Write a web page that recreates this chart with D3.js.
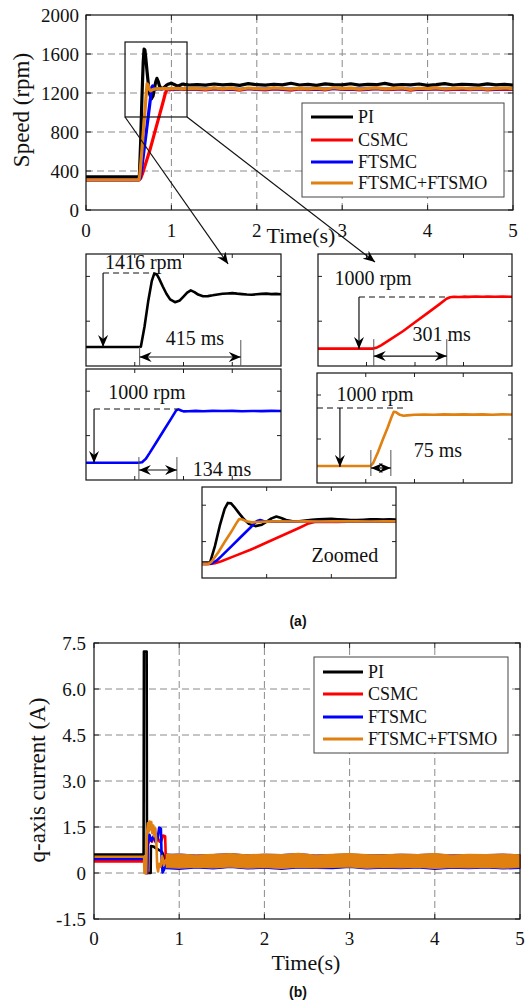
<!DOCTYPE html>
<html>
<head>
<meta charset="utf-8">
<script src="https://cdn.jsdelivr.net/npm/d3@7"></script>
<style>
body { margin: 0; background: #fff; }
text { font-family: "Liberation Serif", "Times New Roman", serif; fill: #111; }
</style>
</head>
<body>
<svg id="fig" width="526" height="1004"></svg>
<script>

// series names and colours
const names = ["PI", "CSMC", "FTSMC", "FTSMC+FTSMO"];
const colors = ["#000000", "#ff0000", "#0000ff", "#e08010"];

// tick values / labels
const timeTicks = [0, 1, 2, 3, 4, 5];
const speedTicks = [0, 400, 800, 1200, 1600, 2000];
const curTicks = [-1.5, 0, 1.5, 3, 4.5, 6, 7.5];
const curTickLabels = ["-1.5", "0", "1.5", "3.0", "4.5", "6.0", "7.5"];

// speed (rpm), start-up transient: [t, rpm]
const speedPI = [[0,340],[0.61,340],[0.625,345],[0.64,700],[0.655,1150],[0.67,1520],[0.68,1650],[0.69,1640],
  [0.70,1560],[0.715,1420],[0.73,1290],[0.745,1190],[0.765,1140],[0.785,1170],[0.80,1240],[0.815,1310],
  [0.83,1350],[0.845,1320],[0.86,1275],[0.88,1245],[0.90,1248],[0.92,1262],[0.94,1278],[0.96,1290],
  [0.98,1296],[1.0,1302],[1.02,1292],[1.04,1284],[1.06,1276],[1.08,1272],[1.10,1280],[1.12,1288],
  [1.14,1292],[1.16,1284],[1.18,1288],[1.2,1282]];
const speedCSMC = [[0,310],[0.625,310],[0.64,325],[0.66,370],[0.70,480],[0.75,620],[0.80,780],[0.85,940],
  [0.90,1100],[0.93,1200],[0.945,1228],[0.96,1236],[0.98,1232],[1.0,1238],[1.02,1234],[1.05,1240],
  [1.08,1236],[1.1,1242],[1.13,1237],[1.16,1240],[1.2,1236]];
const speedFTSMC = [[0,310],[0.615,310],[0.63,320],[0.645,380],[0.66,480],[0.69,690],[0.72,900],[0.75,1110],
  [0.77,1255],[0.78,1272],[0.79,1252],[0.80,1236],[0.82,1240],[0.85,1245],[0.88,1240],[0.92,1246],
  [0.96,1242],[1.0,1245],[1.04,1240],[1.08,1244],[1.12,1241],[1.16,1246],[1.2,1243]];
const speedFTSMO = [[0,310],[0.62,310],[0.63,360],[0.65,560],[0.67,790],[0.69,1010],[0.705,1190],[0.715,1295],
  [0.725,1285],[0.74,1240],[0.755,1222],[0.77,1230],[0.80,1240],[0.84,1246],[0.88,1242],[0.92,1247],
  [0.96,1243],[1.0,1248],[1.04,1244],[1.08,1247],[1.12,1242],[1.16,1248],[1.2,1245]];

// speed steady state (rpm)
const steadyT = [1.3,1.4,1.5,1.6,1.7,1.8,1.9,2.0,2.1,2.2,2.3,2.4,2.5,2.6,2.7,2.8,2.9,3.0,3.1,3.2,
  3.3,3.4,3.5,3.6,3.7,3.8,3.9,4.0,4.1,4.2,4.3,4.4,4.5,4.6,4.7,4.8,4.9,5.0];
const steadyPI = [1286,1280,1292,1283,1289,1278,1296,1285,1281,1290, 1284,1300,1282,1288,1279,1293,1286,1283,1295,1280,
  1289,1285,1298,1281,1287,1284,1292,1279,1286,1296, 1282,1290,1285,1280,1293,1284,1288,1281];
const steadyCSMC = [1238,1232,1242,1235,1240,1230,1245,1236,1233,1241, 1237,1229,1243,1235,1239,1232,1246,1236,1240,1231,
  1238,1244,1234,1237,1241,1230,1239,1236,1243,1233, 1238,1240,1235,1242,1232,1237,1239,1236];
const steadyFTSMC = [1244,1240,1247,1241,1245,1238,1246,1242,1240,1247, 1243,1239,1246,1241,1244,1240,1248,1242,1245,1239,
  1243,1247,1241,1244,1246,1238,1245,1242,1247,1240, 1244,1246,1241,1245,1239,1243,1246,1242];
const steadyFTSMO = [1248,1240,1252,1243,1250,1238,1251,1244,1241,1253, 1246,1239,1250,1243,1249,1240,1254,1244,1250,1239,
  1246,1252,1242,1248,1251,1238,1249,1244,1253,1241, 1247,1251,1242,1249,1240,1246,1251,1244];

// q-axis current (A), transient: [t, A]
const curPI = [[0,0.6],[0.582,0.6],[0.586,7.22],[0.618,7.22],[0.622,0],[0.665,0],[0.668,0.88],[0.70,0.86],
  [0.72,0.82],[0.745,0.78],[0.77,0.74],[0.80,0.68],[0.82,0.55],[0.84,0.45],[0.85,0.4]];
const curCSMC = [[0,0.38],[0.6,0.38],[0.603,0],[0.625,0],[0.632,0.9],[0.655,1.12],[0.68,1.02],[0.70,1.18],
  [0.72,1.06],[0.745,1.16],[0.77,1.02],[0.79,1.05],[0.81,1.22],[0.835,1.2],[0.845,0.25],[0.85,0.3]];
const curFTSMC = [[0,0.46],[0.6,0.46],[0.605,0],[0.622,0],[0.63,0.95],[0.65,1.25],[0.675,1.05],[0.70,1.2],
  [0.725,1.0],[0.745,1.1],[0.765,1.48],[0.785,1.45],[0.795,0.4],[0.805,0.02],[0.82,0.1],[0.85,0.3]];
const curFTSMO = [[0,0.53],[0.588,0.53],[0.592,0],[0.612,0],[0.62,1.2],[0.632,1.62],[0.642,1.35],[0.652,1.68],
  [0.662,1.42],[0.672,1.66],[0.684,1.3],[0.695,1.55],[0.708,1.2],[0.72,1.45],[0.732,1.0],[0.742,0.2],
  [0.752,0.05],[0.765,0.3],[0.78,0.2],[0.8,0.55],[0.82,0.25],[0.85,0.45]];

// q-axis current ripple band after start-up: lower / upper envelope (A)
const envT = [0.85,1.0,1.2,1.4,1.6,1.8,2.0,2.2,2.4,2.6,2.8,3.0,3.2,3.4,3.6,3.8,4.0,4.2,4.4,4.6,4.8,5.0];
const envPIlo = [0.22,0.2,0.21,0.19,0.22,0.2,0.21,0.19,0.22,0.2,0.21,0.22,0.2,0.21,0.19,0.22,0.2,0.21,0.2,0.22,0.19,0.21];
const envPIhi = [0.62,0.58,0.57,0.59,0.6,0.57,0.59,0.58,0.6,0.57,0.59,0.6,0.58,0.57,0.6,0.58,0.59,0.57,0.6,0.58,0.59,0.57];
const envCSMClo = [0.2,0.19,0.21,0.2,0.22,0.19,0.2,0.18,0.21,0.2,0.19,0.21,0.2,0.22,0.19,0.2,0.18,0.21,0.2,0.21,0.19,0.2];
const envCSMChi = [0.6,0.59,0.57,0.6,0.61,0.58,0.6,0.59,0.61,0.57,0.6,0.61,0.58,0.6,0.59,0.6,0.61,0.58,0.6,0.59,0.61,0.58];
const envFTSMClo = [0.14,0.12,0.17,0.13,0.18,0.13,0.16,0.12,0.17,0.15,0.14,0.18,0.13,0.16,0.14,0.17,0.12,0.16,0.14,0.17,0.13,0.15];
const envFTSMChi = [0.6,0.62,0.58,0.6,0.63,0.58,0.61,0.6,0.63,0.58,0.6,0.62,0.59,0.59,0.61,0.6,0.62,0.58,0.6,0.6,0.61,0.59];
const envFTSMOlo = [0.18,0.16,0.19,0.17,0.2,0.16,0.18,0.15,0.19,0.17,0.18,0.2,0.16,0.18,0.17,0.19,0.15,0.18,0.17,0.19,0.16,0.18];
const envFTSMOhi = [0.6,0.62,0.58,0.61,0.63,0.59,0.62,0.6,0.64,0.58,0.61,0.63,0.6,0.59,0.62,0.6,0.63,0.58,0.61,0.6,0.62,0.59];


const speed = [
    speedPI.concat(steadyT.map((t, i) => [t, steadyPI[i]])),
    speedCSMC.concat(steadyT.map((t, i) => [t, steadyCSMC[i]])),
    speedFTSMC.concat(steadyT.map((t, i) => [t, steadyFTSMC[i]])),
    speedFTSMO.concat(steadyT.map((t, i) => [t, steadyFTSMO[i]]))
];
const current = [curPI, curCSMC, curFTSMC, curFTSMO];
const envelope = [
    envT.map((t, i) => [t, envPIlo[i], envPIhi[i]]),
    envT.map((t, i) => [t, envCSMClo[i], envCSMChi[i]]),
    envT.map((t, i) => [t, envFTSMClo[i], envFTSMChi[i]]),
    envT.map((t, i) => [t, envFTSMOlo[i], envFTSMOhi[i]])
];

const svg = d3.select("#fig");
svg.append("rect").attr("width", 526).attr("height", 1004).attr("fill", "white");

const defs = svg.append("defs");
defs.append("marker")
    .attr("id", "head")
    .attr("viewBox", "0 0 12 10")
    .attr("refX", 12).attr("refY", 5)
    .attr("markerWidth", 12).attr("markerHeight", 10)
    .attr("markerUnits", "userSpaceOnUse")
    .attr("orient", "auto-start-reverse")
    .append("path")
    .attr("d", "M0,0 L12,5 L0,10 L4,5 Z")
    .attr("fill", "black");

function txt(g, x, y, s, size, anchor)
{
    return g.append("text")
        .attr("x", x).attr("y", y)
        .attr("font-size", size)
        .attr("text-anchor", anchor || "start")
        .text(s);
}

// MATLAB style box: optional dashed grid, inward ticks on all four sides
function frame(g, x, y, xt, yt, grid, tickLen)
{
    const [x0, x1] = x.range();
    const [y0, y1] = y.range();

    if (grid)
    {
        xt.filter(t => x(t) > x0 + 1 && x(t) < x1 - 1).forEach(t => {
            g.append("line").attr("x1", x(t)).attr("x2", x(t)).attr("y1", y0).attr("y2", y1)
                .attr("stroke", "#8a8a8a").attr("stroke-dasharray", "7,4");
        });
        yt.filter(v => y(v) < y0 - 1 && y(v) > y1 + 1).forEach(v => {
            g.append("line").attr("x1", x0).attr("x2", x1).attr("y1", y(v)).attr("y2", y(v))
                .attr("stroke", "#8a8a8a").attr("stroke-dasharray", "7,4");
        });
    }

    xt.forEach(t => {
        g.append("line").attr("x1", x(t)).attr("x2", x(t)).attr("y1", y0).attr("y2", y0 - tickLen).attr("stroke", "#222");
        g.append("line").attr("x1", x(t)).attr("x2", x(t)).attr("y1", y1).attr("y2", y1 + tickLen).attr("stroke", "#222");
    });
    yt.forEach(v => {
        g.append("line").attr("x1", x0).attr("x2", x0 + tickLen).attr("y1", y(v)).attr("y2", y(v)).attr("stroke", "#222");
        g.append("line").attr("x1", x1).attr("x2", x1 - tickLen).attr("y1", y(v)).attr("y2", y(v)).attr("stroke", "#222");
    });
}

function box(g, x, y)
{
    const [x0, x1] = x.range();
    const [y0, y1] = y.range();
    g.append("rect").attr("x", x0).attr("y", y1).attr("width", x1 - x0).attr("height", y0 - y1)
        .attr("fill", "none").attr("stroke", "#111").attr("stroke-width", 1.2);
}

function legend(g, b, rowY, lx0, lx1, tx)
{
    g.append("rect").attr("x", b[0]).attr("y", b[1]).attr("width", b[2] - b[0]).attr("height", b[3] - b[1])
        .attr("fill", "white").attr("stroke", "#444").attr("stroke-width", 1);
    names.forEach((n, i) => {
        g.append("line").attr("x1", lx0).attr("x2", lx1).attr("y1", rowY[i]).attr("y2", rowY[i])
            .attr("stroke", colors[i]).attr("stroke-width", 3);
        txt(g, tx, rowY[i] + 6, n, 18, "start");
    });
}

// ---------------- (a) speed ----------------

const xS = d3.scaleLinear().domain([0, 5]).range([86, 513]);
const yS = d3.scaleLinear().domain([0, 2000]).range([210, 15]);
const gA = svg.append("g");

frame(gA, xS, yS, timeTicks, speedTicks, true, 5);

const lineS = d3.line().x(d => xS(d[0])).y(d => yS(d[1]));
speed.forEach((s, i) => {
    gA.append("path").datum(s).attr("d", lineS).attr("fill", "none")
        .attr("stroke", colors[i]).attr("stroke-width", 3.2).attr("stroke-linejoin", "round");
});

box(gA, xS, yS);

speedTicks.forEach(v => txt(gA, 79, yS(v) + 6.5, v, 19, "end"));
timeTicks.forEach(t => txt(gA, xS(t), 237, t, 19, "middle"));
txt(gA, 301, 243, "Time(s)", 22, "middle");
txt(gA, 0, 0, "Speed (rpm)", 23, "middle").attr("transform", "translate(29,110) rotate(-90)");

// zoom window on the main plot
const zoomWin = {t0: 0.457, t1: 1.183, v0: 954, v1: 1723};
gA.append("rect")
    .attr("x", xS(zoomWin.t0)).attr("y", yS(zoomWin.v1))
    .attr("width", xS(zoomWin.t1) - xS(zoomWin.t0)).attr("height", yS(zoomWin.v0) - yS(zoomWin.v1))
    .attr("fill", "none").attr("stroke", "#111").attr("stroke-width", 1.2);

legend(gA, [302, 103, 504, 197], [117, 140, 162, 183], 311, 353, 358);

// ---------------- zoomed insets ----------------

const insets = [
    {box: [86, 254, 281, 366], xd: [0.4, 1.2], xt: [0.6, 0.8, 1.0], series: [0],
     ann: {top: "1416 rpm", topAt: [0.636, 1732], dash: [0.47, 0.68, 1661], varrow: [0.47, 1661, 339],
           marks: [[0.62, 0, 339], [1.035, 0, 464]], harrow: [0.62, 1.035, 161], ms: "415 ms", msAt: [0.847, 375]}},
    {box: [318, 254, 512, 366], xd: [0.4, 1.2], xt: [0.6, 0.8, 1.0], series: [1],
     ann: {top: "1000 rpm", topAt: [0.627, 1446], dash: [0.569, 0.93, 1232], varrow: [0.569, 1232, 304],
           marks: [[0.63, 0, 480], [0.931, 0, 480]], harrow: [0.63, 0.931, 178], ms: "301 ms", msAt: [0.91, 446]}},
    {box: [86, 369, 281, 480], xd: [0.4, 1.2], xt: [0.6, 0.8, 1.0], series: [2],
     ann: {top: "1000 rpm", topAt: [0.65, 1459], dash: [0.433, 0.777, 1279], varrow: [0.433, 1279, 306],
           marks: [[0.617, 0, 414], [0.773, 0, 414]], harrow: [0.617, 0.773, 180], ms: "134 ms", msAt: [0.958, 72]}},
    {box: [317, 373, 512, 483], xd: [0.4, 1.2], xt: [0.6, 0.8, 1.0], series: [3],
     ann: {top: "1000 rpm", topAt: [0.638, 1491], dash: [0.4, 0.765, 1364], varrow: [0.494, 1364, 291],
           marks: [[0.621, 127, 600], [0.703, 127, 600]], harrow: [0.621, 0.703, 273], ms: "75 ms", msAt: [0.896, 473]}},
    {box: [202, 487, 396, 578], xd: [0.6, 1.2], xt: [0.8, 1.0], series: [0, 1, 2, 3],
     ann: {ms: "Zoomed", msAt: [1.042, 352]}}
];
const insetYTicks = [800, 1600];

insets.forEach((ins, k) => {
    const g = svg.append("g");
    const x = d3.scaleLinear().domain(ins.xd).range([ins.box[0], ins.box[2]]);
    const y = d3.scaleLinear().domain([0, 2000]).range([ins.box[3], ins.box[1]]);
    ins.x = x; ins.y = y;

    g.append("rect").attr("x", ins.box[0]).attr("y", ins.box[1])
        .attr("width", ins.box[2] - ins.box[0]).attr("height", ins.box[3] - ins.box[1]).attr("fill", "white");

    defs.append("clipPath").attr("id", "clip" + k).append("rect")
        .attr("x", ins.box[0]).attr("y", ins.box[1])
        .attr("width", ins.box[2] - ins.box[0]).attr("height", ins.box[3] - ins.box[1]);

    frame(g, x, y, ins.xt, insetYTicks, false, 4);

    const line = d3.line().x(d => x(d[0])).y(d => y(d[1]));
    ins.series.forEach(i => {
        g.append("path").datum(speed[i]).attr("d", line).attr("fill", "none")
            .attr("clip-path", "url(#clip" + k + ")")
            .attr("stroke", colors[i]).attr("stroke-width", 2.6).attr("stroke-linejoin", "round");
    });

    box(g, x, y);

    const a = ins.ann;
    if (a.dash)
    {
        g.append("line").attr("x1", x(a.dash[0])).attr("x2", x(a.dash[1])).attr("y1", y(a.dash[2])).attr("y2", y(a.dash[2]))
            .attr("stroke", "#111").attr("stroke-width", 1.2).attr("stroke-dasharray", "6,4");
        g.append("line").attr("x1", x(a.varrow[0])).attr("x2", x(a.varrow[0])).attr("y1", y(a.varrow[1])).attr("y2", y(a.varrow[2]))
            .attr("stroke", "#111").attr("stroke-width", 1.2).attr("marker-end", "url(#head)");
        a.marks.forEach(m => {
            g.append("line").attr("x1", x(m[0])).attr("x2", x(m[0])).attr("y1", y(m[1])).attr("y2", y(m[2]))
                .attr("stroke", "#555").attr("stroke-width", 1);
        });
        g.append("line").attr("x1", x(a.harrow[0])).attr("x2", x(a.harrow[1])).attr("y1", y(a.harrow[2])).attr("y2", y(a.harrow[2]))
            .attr("stroke", "#111").attr("stroke-width", 1.2)
            .attr("marker-start", "url(#head)").attr("marker-end", "url(#head)");
        txt(g, x(a.topAt[0]), y(a.topAt[1]), a.top, 20, "middle");
    }
    txt(g, x(a.msAt[0]), y(a.msAt[1]), a.ms, 20, "middle");
});

// arrows from the zoom window to the first two insets
const arrowTo = [{ins: 0, corner: "t0", at: [0.983, 1821]}, {ins: 1, corner: "t1", at: [0.635, 1857]}];
arrowTo.forEach(a => {
    const ins = insets[a.ins];
    svg.append("line")
        .attr("x1", xS(zoomWin[a.corner])).attr("y1", yS(zoomWin.v0))
        .attr("x2", ins.x(a.at[0])).attr("y2", ins.y(a.at[1]))
        .attr("stroke", "#111").attr("stroke-width", 1.2).attr("marker-end", "url(#head)");
});

svg.append("text").attr("x", 298).attr("y", 626).attr("text-anchor", "middle")
    .style("font-family", "'Liberation Sans', Arial, sans-serif").style("font-weight", "bold")
    .attr("font-size", 14).text("(a)");

// ---------------- (b) q-axis current ----------------

const xC = d3.scaleLinear().domain([0, 5]).range([94, 520]);
const yC = d3.scaleLinear().domain([-1.5, 7.5]).range([919, 643]);
const gB = svg.append("g");

frame(gB, xC, yC, timeTicks, curTicks, true, 5);

const lineC = d3.line().x(d => xC(d[0])).y(d => yC(d[1]));
const areaC = d3.area().x(d => xC(d[0])).y0(d => yC(d[1])).y1(d => yC(d[2]));
current.forEach((s, i) => {
    gB.append("path").datum(envelope[i]).attr("d", areaC)
        .attr("fill", colors[i]).attr("stroke", colors[i]).attr("stroke-width", 1.2);
    gB.append("path").datum(s).attr("d", lineC).attr("fill", "none")
        .attr("stroke", colors[i]).attr("stroke-width", 2.6).attr("stroke-linejoin", "round");
});

box(gB, xC, yC);

curTicks.forEach((v, i) => txt(gB, 86, yC(v) + 6.5, curTickLabels[i], 19, "end"));
timeTicks.forEach(t => txt(gB, xC(t), 945, t, 19, "middle"));
txt(gB, 306, 970, "Time(s)", 22, "middle");
txt(gB, 0, 0, "q-axis current (A)", 23, "middle").attr("transform", "translate(45,780) rotate(-90)");

legend(gB, [314, 657, 508, 753], [672, 694, 717, 739], 323, 363, 368);

svg.append("text").attr("x", 298).attr("y", 997).attr("text-anchor", "middle")
    .style("font-family", "'Liberation Sans', Arial, sans-serif").style("font-weight", "bold")
    .attr("font-size", 14).text("(b)");

</script>
</body>
</html>
